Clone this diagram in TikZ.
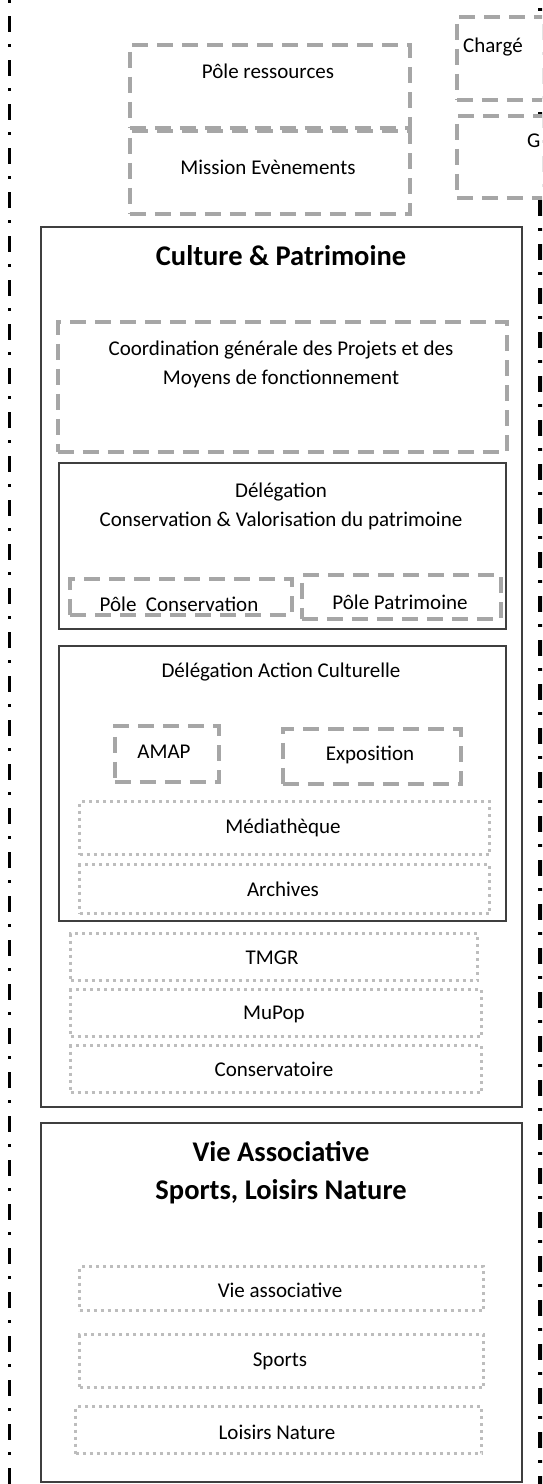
\documentclass[tikz,border=0pt]{standalone}
\usepackage{fontspec}
\setmainfont{Carlito}
\usepackage{xcolor}
\usepackage{tikz}
\usetikzlibrary{positioning}

\definecolor{boxgray}{HTML}{A6A6A6}
\definecolor{dotgray}{HTML}{BDBDBD}
\definecolor{framegray}{HTML}{3F3F3F}

\begin{document}
\begin{tikzpicture}[
        x=1pt, y=-1pt,
        dashbox/.style={rectangle, draw=boxgray, line width=3.5pt, dash pattern=on 16pt off 9pt, fill=white, anchor=north west, inner sep=0pt},
        dotbox/.style={rectangle, draw=dotgray, line width=3pt, dash pattern=on 3pt off 4pt, fill=white, anchor=north west, inner sep=0pt},
        unit/.style={rectangle, draw=framegray, line width=1.5pt, fill=white, anchor=north west, inner sep=0pt},
        txt/.style={font=\fontsize{21}{29}\selectfont, align=center, anchor=base, inner sep=0pt},
        heading/.style={font=\fontsize{28.5}{38}\selectfont\bfseries, align=center, anchor=base, inner sep=0pt},
        edgeline/.style={line width=3pt, dash pattern=on 16pt off 12pt on 3pt off 13pt}
    ]
        \useasboundingbox (0,0) rectangle (542,1484);
        \clip (0,0) rectangle (542,1484);

        % Side lines
        \coordinate (ltop) at (9.5,-28);
        \coordinate (lbot) at (9.5,1500);
        \coordinate (rtop) at (542,-20);
        \coordinate (rbot) at (542,1500);
        \draw [edgeline] (ltop) -- (lbot);
        \draw [edgeline, line width=8pt] (rtop) -- (rbot);

        % Top boxes
        \node (ressources) [dashbox, minimum width=280pt, minimum height=83pt] at (128,43) {};
        \node (ressourcesT) [txt] at (268,78) {Pôle ressources};
        \node (evenements) [dashbox, minimum width=280pt, minimum height=83pt] at (128,129) {};
        \node (evenementsT) [txt] at (268,174) {Mission Evènements};
        \node (charge) [dashbox, minimum width=130pt, minimum height=83pt] at (455,15) {};
        \node (chargeT) [txt, anchor=base west] at (463,52) {Chargé};
        \node (gbox) [dashbox, minimum width=130pt, minimum height=82pt] at (455,114) {};
        \node (gboxT) [txt, anchor=base west] at (527,147) {G};

        % Culture & Patrimoine
        \node (culture) [unit, minimum width=481pt, minimum height=880pt] at (40,226) {};
        \node (cultureT) [heading] at (281,265) {Culture \& Patrimoine};
        \node (coord) [dashbox, minimum width=449pt, minimum height=130pt] at (56,320) {};
        \node (coordT) [txt] at (281,384) {Coordination générale des Projets et des \\ Moyens de fonctionnement};

        % Delegation conservation
        \node (delegcons) [unit, minimum width=447pt, minimum height=166pt] at (58,462) {};
        \node (delegconsT) [txt] at (281,526) {Délégation \\ Conservation \& Valorisation du patrimoine};
        \node (polecons) [dashbox, minimum width=222pt, minimum height=36pt] at (68,577) {};
        \node (poleconsT) [txt] at (179,611) {Pôle\ \ Conservation};
        \node (polepat) [dashbox, minimum width=199pt, minimum height=44pt] at (300,573) {};
        \node (polepatT) [txt] at (400,609) {Pôle Patrimoine};

        % Delegation action culturelle
        \node (delegac) [unit, minimum width=447pt, minimum height=275pt] at (58,645) {};
        \node (delegacT) [txt] at (281,677) {Délégation Action Culturelle};
        \node (amap) [dashbox, minimum width=104pt, minimum height=56pt] at (113,724) {};
        \node (amapT) [txt] at (164,758) {AMAP};
        \node (expo) [dashbox, minimum width=178pt, minimum height=55pt] at (281,727) {};
        \node (expoT) [txt] at (370,760) {Exposition};
        \node (media) [dotbox, minimum width=410pt, minimum height=53pt] at (78,800) {};
        \node (mediaT) [txt] at (283,833) {Médiathèque};
        \node (archives) [dotbox, minimum width=410pt, minimum height=49pt] at (78,863) {};
        \node (archivesT) [txt] at (283,896) {Archives};

        % Etablissements
        \node (tmgr) [dotbox, minimum width=407pt, minimum height=47pt] at (69,932) {};
        \node (tmgrT) [txt] at (272,964) {TMGR};
        \node (mupop) [dotbox, minimum width=411pt, minimum height=47pt] at (69,988) {};
        \node (mupopT) [txt] at (274,1019) {MuPop};
        \node (conserv) [dotbox, minimum width=411pt, minimum height=47pt] at (69,1044) {};
        \node (conservT) [txt] at (274,1076) {Conservatoire};

        % Vie associative
        \node (vie) [unit, minimum width=481pt, minimum height=359pt] at (40,1122) {};
        \node (vieT) [heading] at (281,1199) {Vie Associative \\ Sports, Loisirs Nature};
        \node (vieasso) [dotbox, minimum width=404pt, minimum height=44pt] at (78,1265) {};
        \node (vieassoT) [txt] at (280,1297) {Vie associative};
        \node (sports) [dotbox, minimum width=404pt, minimum height=53pt] at (78,1333) {};
        \node (sportsT) [txt] at (280,1366) {Sports};
        \node (loisirs) [dotbox, minimum width=406pt, minimum height=47pt] at (74,1405) {};
        \node (loisirsT) [txt] at (277,1439) {Loisirs Nature};
    \end{tikzpicture}
\end{document}
